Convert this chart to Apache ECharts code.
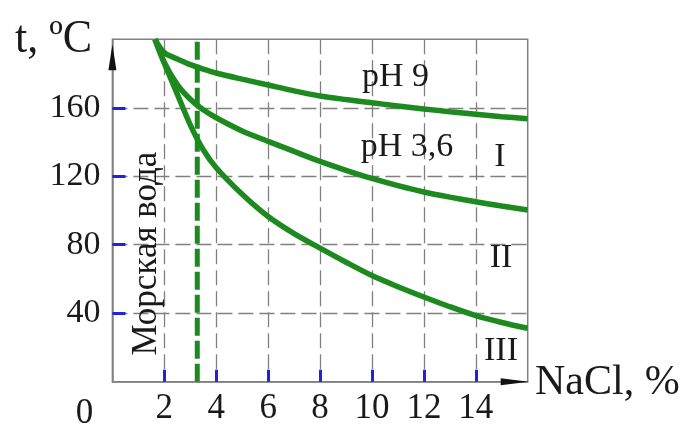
<!DOCTYPE html>
<html>
<head>
<meta charset="utf-8">
<script src="https://cdn.jsdelivr.net/npm/echarts@6/dist/echarts.min.js"></script>
<style>
html,body{margin:0;padding:0;background:#fff;}
#c{width:688px;height:428px;}
</style>
</head>
<body>
<div id="c"></div>
<script>
// ---- data ----
var xTicks = [2, 4, 6, 8, 10, 12, 14];
var yTicks = [40, 80, 120, 160];
var seaWaterNaCl = 3.27;
var curveX    = [1.64, 2,     2.5,   3,     3.5,   4,     5,     6,     7,     8,     9,     10,    11,    12,    13,    14,    15,    16];
var curvePH9  = [200,  192.2, 188.5, 185.2, 182.6, 180.3, 176.7, 173.3, 169.9, 166.9, 164.8, 162.9, 161.1, 159.3, 157.7, 156.2, 154.8, 153.6];
var curvePH36 = [200,  186.5, 173.5, 165,   158.8, 154.2, 146.5, 140.4, 134.5, 128.7, 123.5, 118.7, 114.5, 110.8, 107.8, 105.1, 102.6, 100.3];
var curveIII  = [200,  186,   168,   150,   135.5, 125,   109.5, 96.5,  86.5,  78,    69.8,  62,    55.5,  49.5,  43.8,  38.6,  34.6,  31.2];
var axisTitleY = 't, ºC';
var axisTitleX = 'NaCl, %';
var seaLabel = 'Морская вода';
var regionLabels = ['pH 9', 'pH 3,6', 'I', 'II', 'III'];

var GREEN = '#1d8a1f';
var GREY = '#808080';
var FONT = '"Liberation Serif", "Times New Roman", serif';
var chart = echarts.init(document.getElementById('c'), null, {renderer: 'canvas'});

function curve(name, ys) {
  return {
    name: name, type: 'line', data: curveX.map(function (x, i) { return [x, ys[i]]; }),
    smooth: 0.3, showSymbol: false, symbol: 'none',
    lineStyle: {color: GREEN, width: 5.5}, z: 5, silent: true
  };
}

var option = {
  animation: false,
  backgroundColor: '#fff',
  grid: {left: 112.4, right: 160.3, top: 39.3, bottom: 46.3, show: true, borderColor: GREY, borderWidth: 1.5},
  xAxis: {
    type: 'value', min: 0, max: 16, interval: 2,
    axisLine: {show: true, onZero: false, lineStyle: {color: GREY, width: 1.5}},
    axisTick: {show: true, inside: true, length: 12, customValues: xTicks, lineStyle: {color: '#2222dd', width: 3}},
    axisLabel: {customValues: xTicks, margin: 10, color: '#1a1a1a', fontFamily: FONT, fontSize: 35},
    splitLine: {show: true, lineStyle: {color: GREY, width: 1.3, type: [15, 6]}}
  },
  yAxis: {
    type: 'value', min: 0, max: 200, interval: 40,
    axisLine: {show: true, onZero: false, lineStyle: {color: GREY, width: 1.5}},
    axisTick: {show: true, inside: true, length: 13, customValues: yTicks, lineStyle: {color: '#2222dd', width: 3}},
    axisLabel: {customValues: yTicks, margin: 12, color: '#1a1a1a', fontFamily: FONT, fontSize: 34},
    splitLine: {show: true, lineStyle: {color: GREY, width: 1.3, type: [15, 6]}}
  },
  series: [
    curve('pH 9', curvePH9),
    curve('pH 3,6', curvePH36),
    curve('III', curveIII),
    {
      name: 'sea', type: 'line', data: [[seaWaterNaCl, 0], [seaWaterNaCl, 200]], showSymbol: false, symbol: 'none',
      lineStyle: {color: GREEN, width: 5, type: [18, 5]}, z: 4, silent: true
    }
  ]
};
chart.setOption(option);

function px(x, y) { return chart.convertToPixel({gridIndex: 0}, [x, y]); }
var xe = px(16, 0), ye = px(0, 200);
function txt(x, y, s, size, extra, sy) {
  var st = {text: s, x: 0, y: 0, fill: '#1a1a1a', font: size + 'px ' + FONT, align: 'center', verticalAlign: 'middle'};
  for (var k in extra) st[k] = extra[k];
  return {type: 'text', x: x, y: y, scaleY: sy || 1, style: st, z: 10};
}
chart.setOption({
  graphic: [
    {type: 'polygon', shape: {points: [[xe[0] + 1, xe[1]], [xe[0] - 27, xe[1] - 3.5], [xe[0] - 27, xe[1] + 3.5]]}, style: {fill: '#111'}, z: 10},
    {type: 'polygon', shape: {points: [[ye[0], ye[1] + 5], [ye[0] - 4, ye[1] + 31], [ye[0] + 4, ye[1] + 31]]}, style: {fill: '#111'}, z: 10},
    txt(15, 40, axisTitleY, 44, {align: 'left'}, 1.05),
    txt(535, 383, axisTitleX, 42, {align: 'left'}),
    txt(84.5, 414, '0', 35),
    txt(395.5, 77, regionLabels[0], 34),
    txt(407, 147.5, regionLabels[1], 34),
    txt(500, 157, regionLabels[2], 34),
    txt(501, 258.5, regionLabels[3], 34),
    txt(501, 351.5, regionLabels[4], 34),
    {type: 'text', x: 147, y: 253.5, rotation: Math.PI / 2, style: {text: seaLabel, x: 0, y: 0, fill: '#1a1a1a', font: '35px ' + FONT, align: 'center', verticalAlign: 'middle'}, z: 10}
  ]
});
</script>
</body>
</html>
